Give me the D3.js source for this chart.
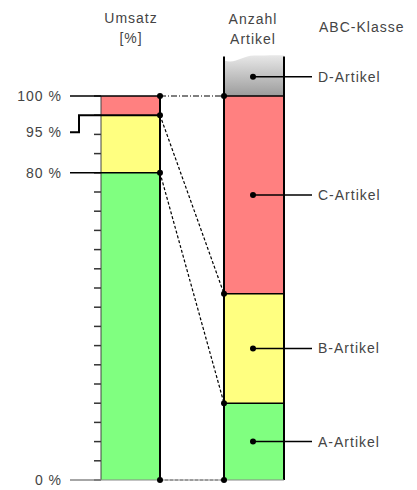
<!DOCTYPE html>
<html>
<head>
<meta charset="utf-8">
<script src="https://cdn.jsdelivr.net/npm/d3@7"></script>
<style>
  body { margin: 0; background: #fff; }
  text { font-family: "Liberation Sans", Arial, sans-serif; font-size: 14px; fill: #444; letter-spacing: 1px; }
</style>
</head>
<body>
<svg id="chart" width="417" height="490"></svg>
<script>
// cumulative shares in percent, bottom (A) to top (C)
const classes = ['A-Artikel', 'B-Artikel', 'C-Artikel', 'D-Artikel'];
const salesCum = [0, 80, 95, 100];
const articlesCum = [0, 20, 48.5, 100, 110]; // D sits above 100 %
const classColors = ['#80ff80', '#ffff80', '#ff8080'];
const axisLabels = [
  { value: 100, text: '100 %' },
  { value: 95, text: '95 %' },
  { value: 80, text: '80 %' },
  { value: 0, text: '0 %' },
];

const svg = d3.select('#chart');
const y = d3.scaleLinear().domain([0, 100]).range([480, 96]);
const leftBar = { x0: 101, x1: 160 };
const rightBar = { x0: 224, x1: 284 };

// gradient for D section
const grad = svg.append('defs').append('linearGradient')
  .attr('id', 'dgrad').attr('x1', 0).attr('y1', 0).attr('x2', 0).attr('y2', 1);
grad.append('stop').attr('offset', '0%').attr('stop-color', '#e8e8e8');
grad.append('stop').attr('offset', '100%').attr('stop-color', '#9c9c9c');

// headers
svg.append('text').attr('x', 131).attr('y', 23).attr('text-anchor', 'middle').text('Umsatz');
svg.append('text').attr('x', 131).attr('y', 43).attr('text-anchor', 'middle').text('[%]');
svg.append('text').attr('x', 253).attr('y', 24).attr('text-anchor', 'middle').text('Anzahl');
svg.append('text').attr('x', 253).attr('y', 44).attr('text-anchor', 'middle').text('Artikel');
svg.append('text').attr('x', 319).attr('y', 32).text('ABC-Klasse');

// left bar segments
svg.selectAll('rect.sales')
  .data(classColors)
  .enter().append('rect')
  .attr('class', 'sales')
  .attr('x', leftBar.x0)
  .attr('width', leftBar.x1 - leftBar.x0)
  .attr('y', (d, i) => y(salesCum[i + 1]))
  .attr('height', (d, i) => y(salesCum[i]) - y(salesCum[i + 1]))
  .attr('fill', d => d);

// right bar segments
svg.selectAll('rect.articles')
  .data(classColors)
  .enter().append('rect')
  .attr('class', 'articles')
  .attr('x', rightBar.x0)
  .attr('width', rightBar.x1 - rightBar.x0)
  .attr('y', (d, i) => y(articlesCum[i + 1]))
  .attr('height', (d, i) => y(articlesCum[i]) - y(articlesCum[i + 1]))
  .attr('fill', d => d);

// D section with wavy top
const dTop = y(articlesCum[4]);
const dp = d3.path();
dp.moveTo(rightBar.x0, y(100));
dp.lineTo(rightBar.x0, dTop + 3);
dp.bezierCurveTo(rightBar.x0 + 12, dTop + 7, rightBar.x0 + 18, dTop - 2, rightBar.x0 + 30, dTop - 2);
dp.bezierCurveTo(rightBar.x0 + 42, dTop - 2, rightBar.x0 + 50, dTop - 3, rightBar.x1, dTop - 2);
dp.lineTo(rightBar.x1, y(100));
dp.closePath();
svg.append('path').attr('d', dp.toString()).attr('fill', 'url(#dgrad)');

// minor ticks every 5 %
svg.selectAll('line.tick')
  .data(y.ticks(20))
  .enter().append('line')
  .attr('x1', leftBar.x0 - 7).attr('x2', leftBar.x0)
  .attr('y1', d => y(d)).attr('y2', d => y(d))
  .attr('stroke', '#333').attr('stroke-width', 1.5);

// left bar borders
svg.append('line').attr('x1', leftBar.x0).attr('x2', leftBar.x0)
  .attr('y1', y(100)).attr('y2', y(0)).attr('stroke', '#444').attr('stroke-width', 1);
svg.append('line').attr('x1', leftBar.x1).attr('x2', leftBar.x1)
  .attr('y1', y(100)).attr('y2', y(0)).attr('stroke', '#000').attr('stroke-width', 2);

// right bar borders
[rightBar.x0, rightBar.x1].forEach(x => {
  svg.append('line').attr('x1', x).attr('x2', x)
    .attr('y1', dTop - 1).attr('y2', y(0)).attr('stroke', '#000').attr('stroke-width', 2);
});
articlesCum.slice(1, 4).forEach(v => {
  svg.append('line').attr('x1', rightBar.x0).attr('x2', rightBar.x1)
    .attr('y1', y(v)).attr('y2', y(v)).attr('stroke', '#000').attr('stroke-width', 1.5);
});

// axis lines at 100 % and 80 %
[100, 80].forEach(v => {
  svg.append('line').attr('x1', 70).attr('x2', leftBar.x1)
    .attr('y1', y(v)).attr('y2', y(v)).attr('stroke', '#000').attr('stroke-width', 1.5);
});
// 95 % bracket
svg.append('path')
  .attr('d', `M70,${y(95) + 17}H79V${y(95)}H${leftBar.x1}`)
  .attr('fill', 'none').attr('stroke', '#000').attr('stroke-width', 2);
// baseline
svg.append('line').attr('x1', 70).attr('x2', leftBar.x0)
  .attr('y1', y(0)).attr('y2', y(0)).attr('stroke', '#888').attr('stroke-width', 1.5);
svg.append('line').attr('x1', leftBar.x0).attr('x2', rightBar.x1)
  .attr('y1', y(0)).attr('y2', y(0)).attr('stroke', '#888').attr('stroke-width', 1);

// axis labels
svg.selectAll('text.axis')
  .data(axisLabels)
  .enter().append('text')
  .attr('x', 62)
  .attr('y', d => y(d.value) + (d.value === 95 ? 17 : 0))
  .attr('dy', '0.35em')
  .attr('text-anchor', 'end')
  .attr('letter-spacing', '0.5px')
  .text(d => d.text);

// connectors between bars
const links = salesCum.map((s, i) => ({ s, a: articlesCum[i] }));
svg.selectAll('line.link')
  .data(links)
  .enter().append('line')
  .attr('x1', leftBar.x1).attr('y1', d => y(d.s))
  .attr('x2', rightBar.x0).attr('y2', d => y(d.a))
  .attr('stroke', (d, i) => i === 0 ? '#777' : '#000')
  .attr('stroke-width', 1.2)
  .attr('stroke-dasharray', (d, i) => i === 3 ? '6,2,1,2' : '3,2');

const dots = links.flatMap(d => [[leftBar.x1, y(d.s)], [rightBar.x0, y(d.a)]]);
svg.selectAll('circle.end')
  .data(dots)
  .enter().append('circle')
  .attr('cx', d => d[0]).attr('cy', d => d[1]).attr('r', 3)
  .attr('fill', '#000');

// class labels on the right
const labelData = classes.map((c, i) => ({ c, mid: (y(articlesCum[i]) + y(articlesCum[i + 1])) / 2 }));
const lg = svg.selectAll('g.lbl').data(labelData).enter().append('g');
lg.append('line').attr('x1', 253).attr('x2', 312)
  .attr('y1', d => d.mid).attr('y2', d => d.mid).attr('stroke', '#000').attr('stroke-width', 1.5);
lg.append('circle').attr('cx', 253).attr('cy', d => d.mid).attr('r', 3).attr('fill', '#000');
lg.append('text').attr('x', 318).attr('y', d => d.mid).attr('dy', '0.35em').text(d => d.c);
</script>
</body>
</html>
